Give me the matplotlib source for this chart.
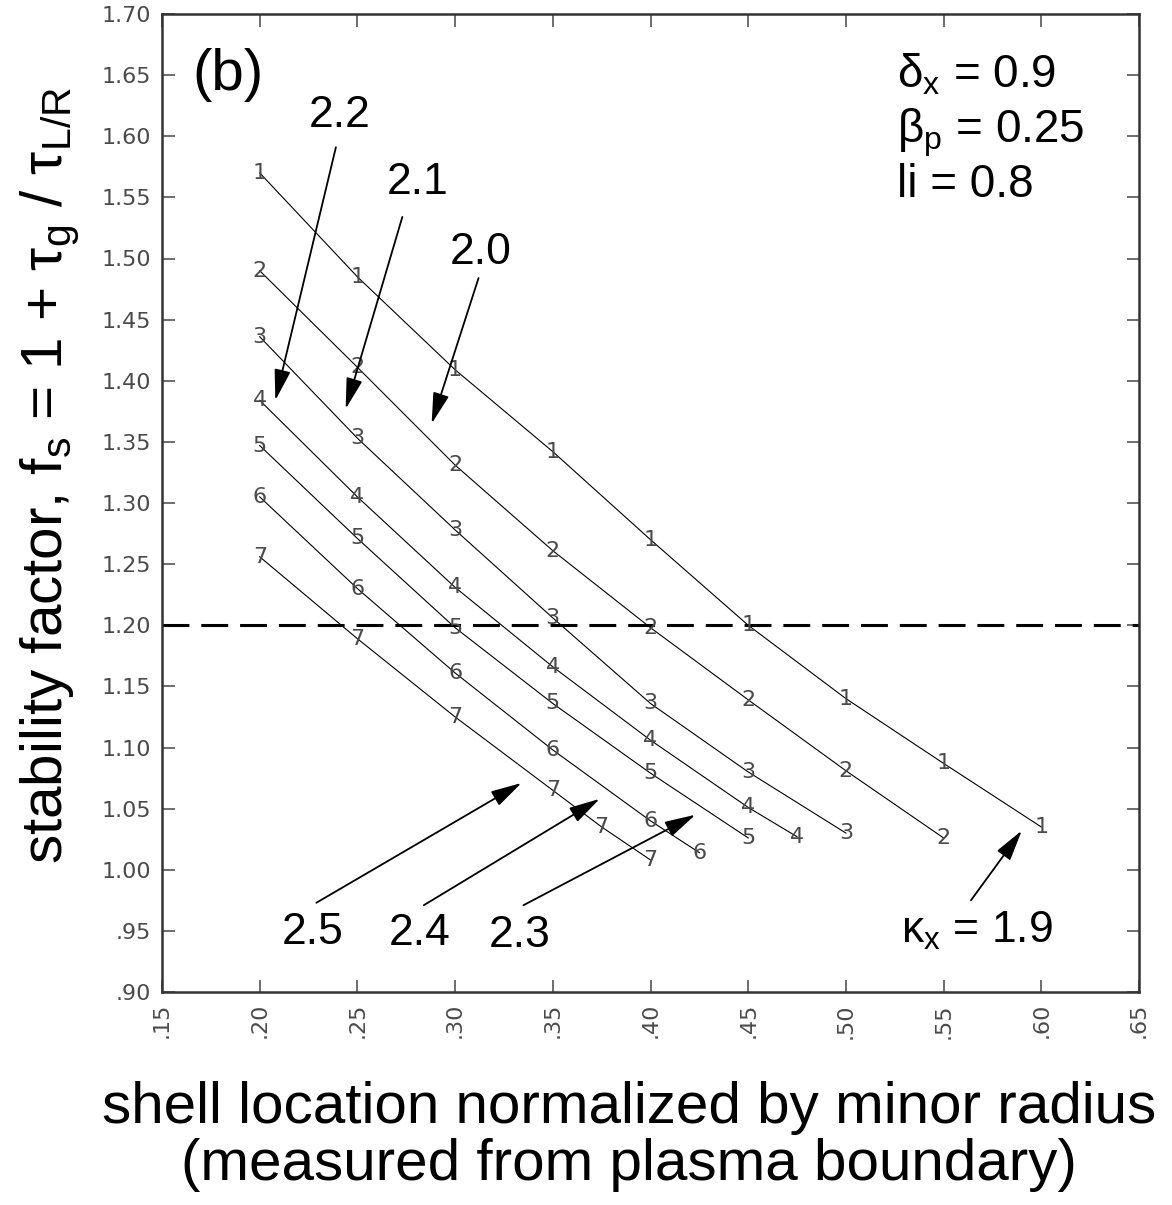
import matplotlib
matplotlib.use('Agg')
import matplotlib.pyplot as plt

plt.rcParams['font.family'] = ['Liberation Sans', 'DejaVu Sans']
plt.rcParams['mathtext.fontset'] = 'custom'
plt.rcParams['mathtext.rm'] = 'Liberation Sans'
plt.rcParams['mathtext.it'] = 'Liberation Sans'

# shell position (normalized by minor radius) and stability factor, one curve per kappa_x
curve_ids = ['1', '2', '3', '4', '5', '6', '7']
kappa_x = ['1.9', '2.0', '2.1', '2.2', '2.3', '2.4', '2.5']

x1 = [.20, .25, .30, .35, .40, .45, .50, .55, .60]
y1 = [1.570, 1.485, 1.409, 1.342, 1.270, 1.200, 1.140, 1.087, 1.035]
x2 = [.20, .25, .30, .35, .40, .45, .50, .55]
y2 = [1.490, 1.411, 1.331, 1.261, 1.198, 1.139, 1.081, 1.026]
x3 = [.20, .25, .30, .35, .40, .45, .50]
y3 = [1.436, 1.353, 1.278, 1.206, 1.136, 1.080, 1.030]
x4 = [.20, .25, .30, .35, .40, .45, .475]
y4 = [1.384, 1.305, 1.231, 1.166, 1.106, 1.051, 1.027]
x5 = [.20, .25, .30, .35, .40, .45]
y5 = [1.347, 1.271, 1.198, 1.136, 1.079, 1.026]
x6 = [.20, .25, .30, .35, .40, .425]
y6 = [1.305, 1.230, 1.161, 1.098, 1.040, 1.014]
x7 = [.20, .25, .30, .35, .375, .40]
y7 = [1.256, 1.189, 1.125, 1.065, 1.035, 1.008]

xs = [x1, x2, x3, x4, x5, x6, x7]
ys = [y1, y2, y3, y4, y5, y6, y7]

fs_limit = 1.20

xticks = [.15, .20, .25, .30, .35, .40, .45, .50, .55, .60, .65]
xtick_labels = ['.15', '.20', '.25', '.30', '.35', '.40', '.45', '.50', '.55', '.60', '.65']
yticks = [.90, .95, 1.00, 1.05, 1.10, 1.15, 1.20, 1.25, 1.30, 1.35, 1.40,
          1.45, 1.50, 1.55, 1.60, 1.65, 1.70]
ytick_labels = ['.90', '.95', '1.00', '1.05', '1.10', '1.15', '1.20', '1.25', '1.30',
                '1.35', '1.40', '1.45', '1.50', '1.55', '1.60', '1.65', '1.70']

W, H = 1172, 1205
fig = plt.figure(figsize=(W / 100, H / 100), dpi=100)
ax = fig.add_axes([162 / W, 1 - 992 / H, (1139 - 162) / W, (992 - 14) / H])

small = dict(family='DejaVu Sans', color='#4a4a4a', fontsize=16)

for cid, x, y in zip(curve_ids, xs, ys):
    ax.plot(x, y, color='black', lw=0.8)
    for xi, yi in zip(x, y):
        ax.text(xi, yi, cid, ha='center', va='center', **small)

ax.axhline(fs_limit, color='black', lw=2.2, dashes=(8.8, 3.9))

ax.set_xlim(.15, .65)
ax.set_ylim(.90, 1.70)
ax.set_xticks(xticks)
ax.set_xticklabels(xtick_labels, rotation=90, **small)
ax.set_yticks(yticks)
ax.set_yticklabels(ytick_labels, **small)
ax.tick_params(direction='in', length=9, width=1.2, color='#555555',
               top=True, right=True, pad=8)
for sp in ax.spines.values():
    sp.set_linewidth(1.8)
    sp.set_color('#333333')

# annotations
big = dict(fontsize=32, color='black', ha='center', va='center')
ax.text(.184, 1.650, '(b)', fontsize=42, ha='center', va='center')
ax.text(.526, 1.650, r'δ$_\mathregular{x}$ = 0.9', fontsize=33, ha='left', va='center')
ax.text(.526, 1.603, r'β$_\mathregular{p}$ = 0.25', fontsize=33, ha='left', va='center')
ax.text(.526, 1.560, 'li = 0.8', fontsize=33, ha='left', va='center')

arrow = dict(arrowstyle='-|>,head_length=0.95,head_width=0.25', mutation_scale=20,
             lw=1.3, color='black', shrinkA=0, shrinkB=0)

# (label, text position, arrow tail, arrow head)
callouts = [
    (kappa_x[3], (.241, 1.617), (.239, 1.591), (.208, 1.384)),
    (kappa_x[2], (.281, 1.562), (.273, 1.534), (.244, 1.377)),
    (kappa_x[1], (.313, 1.505), (.312, 1.484), (.288, 1.365)),
    (kappa_x[6], (.227, .949), (.229, .973), (.334, 1.071)),
    (kappa_x[5], (.282, .948), (.284, .971), (.374, 1.058)),
    (kappa_x[4], (.333, .946), (.335, .971), (.423, 1.045)),
]
for lab, tpos, tail, head in callouts:
    ax.text(*tpos, lab, **big)
    ax.annotate('', xy=head, xytext=tail, arrowprops=arrow)

ax.text(.567, .950, r'κ$_\mathregular{x}$ = ' + kappa_x[0], **big)
ax.annotate('', xy=(.590, 1.032), xytext=(.564, .975), arrowprops=arrow)

fig.text(50 / W, 1 - 475 / H,
         r'stability factor, f$_\mathregular{s}$ = 1 + τ$_\mathregular{g}$ / τ$_\mathregular{L/R}$',
         rotation=90, fontsize=42, ha='center', va='center')
fig.text(629 / W, 1 - 1108 / H, 'shell location normalized by minor radius',
         fontsize=42, ha='center', va='center')
fig.text(629 / W, 1 - 1165 / H, '(measured from plasma boundary)',
         fontsize=42, ha='center', va='center')

fig.savefig('out.png', dpi=100)
